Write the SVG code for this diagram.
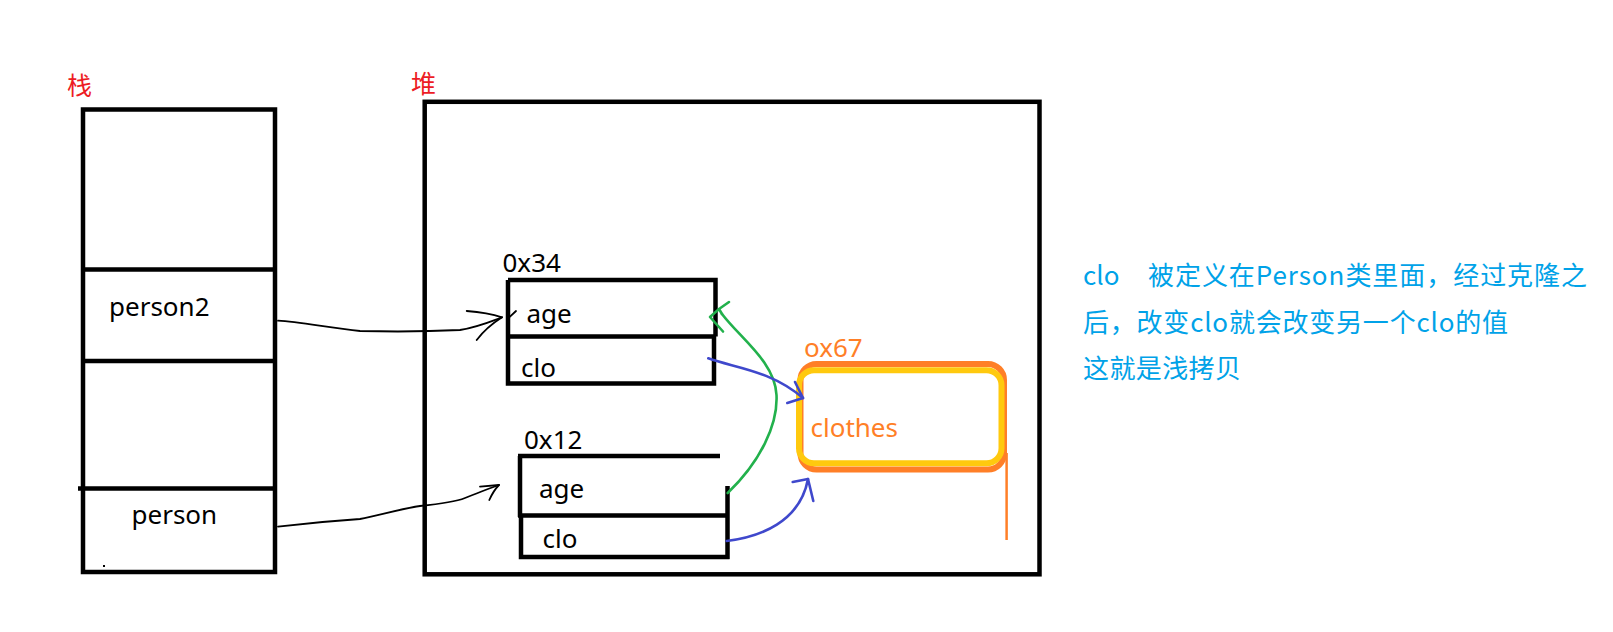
<svg xmlns="http://www.w3.org/2000/svg" width="1613" height="632" viewBox="0 0 1613 632">
<style>
.box{fill:none;stroke:#000;stroke-width:4.5}
.ln{stroke:#000;stroke-width:4.5;fill:none}
.t{font-family:"Noto Sans","Open Sans",sans-serif;font-size:26px;fill:#000}
.red{font-family:"Noto Sans CJK SC",sans-serif;font-size:25px;fill:#ED1C24}
.org{font-family:"Noto Sans","Open Sans",sans-serif;font-size:26px;fill:#FF7F27}
.note{font-family:"Noto Sans CJK SC","Noto Sans",sans-serif;font-size:26px;fill:#00A2E8}
.ar{fill:none;stroke:#000;stroke-width:1.8;stroke-linecap:round;stroke-linejoin:round}
.gr{fill:none;stroke:#22B14C;stroke-width:2.6;stroke-linecap:round;stroke-linejoin:round}
.bl{fill:none;stroke:#3F48CC;stroke-width:2.6;stroke-linecap:round;stroke-linejoin:round}
</style>
<rect width="1613" height="632" fill="#fff"/>
<g id="labels">
<text class="red" x="67" y="95">栈</text>
<text class="red" x="411" y="93">堆</text>
</g>
<g id="stack">
<rect class="box" x="83" y="109.5" width="192" height="462.5"/>
<line class="ln" x1="83" y1="269.5" x2="275" y2="269.5"/>
<line class="ln" x1="83" y1="361" x2="275" y2="361"/>
<line class="ln" x1="78" y1="488.5" x2="275" y2="488.5"/>
<rect x="103" y="565" width="2" height="2" fill="#000"/>
<text class="t" x="109" y="316">person2</text>
<text class="t" x="131.5" y="524">person</text>
</g>
<g id="heap">
<rect class="box" x="424.7" y="101.8" width="614.8" height="472.5"/>
</g>
<g id="obj-0x34">
<text class="t" x="502.5" y="271.5">0x34</text>
<path class="ln" d="M508,280 H715.5 V336.5 M508,336.5 H716 M714,336.5 V383.5 H508 V280"/>
<text class="t" x="526.5" y="323">age</text>
<text class="t" x="521" y="376.5">clo</text>
</g>
<g id="obj-0x12">
<text class="t" x="524" y="449">0x12</text>
<path class="ln" d="M518,456 H720 M520,456 V517 M518,515.5 H729.5 M521,514 V557 H729.5 M727.5,486 V559"/>
<text class="t" x="539" y="498">age</text>
<text class="t" x="542.5" y="548">clo</text>
</g>
<g id="obj-ox67">
<text class="org" x="804" y="357">ox67</text>
<rect x="800.5" y="364" width="203.5" height="105.5" rx="16" fill="none" stroke="#FF7F27" stroke-width="6"/>
<rect x="799" y="370.3" width="202.5" height="93" rx="15" fill="none" stroke="#FFC90E" stroke-width="6"/>
<line x1="1006.6" y1="453" x2="1006.6" y2="540" stroke="#FF7F27" stroke-width="2.5"/>
<text class="org" x="810.5" y="436.5">clothes</text>
</g>
<g id="note">
<text class="note" x="1083" y="285">clo</text>
<text class="note" x="1148" y="285" textLength="439" lengthAdjust="spacing">被定义在Person类里面，经过克隆之</text>
<text class="note" x="1083" y="331.5" textLength="425" lengthAdjust="spacing">后，改变clo就会改变另一个clo的值</text>
<text class="note" x="1083" y="378" textLength="158" lengthAdjust="spacing">这就是浅拷贝</text>
</g>
<g id="connectors">
<path class="ar" d="M278,320.7 C300,322 330,328 360,331 C400,332 440,331 460,330 C478,327 492,321 502,317.3"/>
<path class="ar" d="M466.7,311 C480,312 492,314 502,317.3 M476.7,340 C482,333 490,325 502,317.3 M510,316.7 L516,311"/>
<path class="ar" d="M278,526.7 C300,524 330,521 360,519 C380,515 400,509 420,506 C440,504 455,502 465,498 C480,492 490,488 499,485"/>
<path class="ar" d="M480,486.7 L499,485 M489.3,500 C492,494 495,489 499,485"/>
<path class="gr" d="M727.7,493 C760,462 778,425 776.5,395 C775,362 740,338 722,314"/>
<path class="gr" d="M723,331.5 L710,317 L719,309 L729,302 M719,309 L722,314"/>
<path class="bl" d="M708.3,358.3 C735,368 770,370 803,398"/>
<path class="bl" d="M795,382 L803,398 L787.3,403"/>
<path class="bl" d="M726.7,541 C760,537 800,522 808,479"/>
<path class="bl" d="M792.7,482 L808,479 L813.3,501"/>
</g>
</svg>
